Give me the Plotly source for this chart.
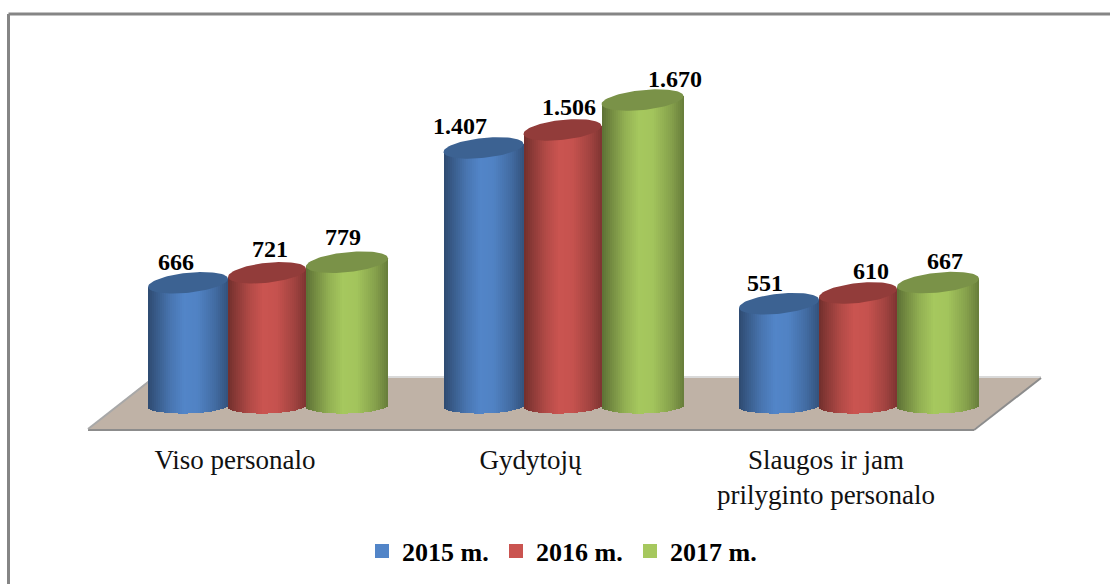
import numpy as np
import plotly.graph_objects as go

# ---- data ----
categories = ["Viso personalo", "Gydytojų", "Slaugos ir jam<br>prilyginto personalo"]
series_names = ["2015 m.", "2016 m.", "2017 m."]
values_2015 = [666, 1407, 551]
values_2016 = [721, 1506, 610]
values_2017 = [779, 1670, 667]
labels_2015 = ["666", "1.407", "551"]
labels_2016 = ["721", "1.506", "610"]
labels_2017 = ["779", "1.670", "667"]

# ---- styling / geometry (pixels) ----
W, H = 1110, 584
PLOT_BOTTOM = 435
BASE_PX = 404
PX_PER_UNIT = 0.182
CAT_ORIGIN = 235
CAT_STEP = 295.5
SERIES_LEFT = [148 - 235, 228 - 235, 306 - 235]
SERIES_WIDTH = [80, 78, 82]
SLICE = 2
BODY_RGB = [(82, 133, 200), (202, 84, 80), (166, 200, 94)]
TOP_RGB = [(60, 98, 146), (146, 60, 58), (122, 146, 72)]
SHADE = [(0.0, 0.56), (0.10, 0.68), (0.28, 0.88), (0.45, 1.0), (0.62, 0.98), (0.85, 0.80), (1.0, 0.62)]
TILT = 4
MINOR = 10
BOTTOM_MINOR = 7.5
# label shifts for each series and category (x px, y px above top centre)
LABEL_DX = [[-12, -24, -14], [3, 6, 13], [-4, 32, 7]]
LABEL_DY = [[21, 22, 21], [24, 23, 22], [25, 21, 22]]

all_values = [values_2015, values_2016, values_2017]
all_labels = [labels_2015, labels_2016, labels_2017]

xr = [-CAT_ORIGIN / CAT_STEP, (W - CAT_ORIGIN) / CAT_STEP]
yr = [(BASE_PX - PLOT_BOTTOM) / PX_PER_UNIT, BASE_PX / PX_PER_UNIT]


def shade(rgb, t):
    f = np.interp(t, [s[0] for s in SHADE], [s[1] for s in SHADE])
    return "rgb(%d,%d,%d)" % tuple(int(round(c * f)) for c in rgb)


fig = go.Figure()
annotations = []
for s, (vals, labs) in enumerate(zip(all_values, all_labels)):
    xs, tops, bases, widths, colors = [], [], [], [], []
    wpx = SERIES_WIDTH[s]
    n = wpx // SLICE
    for c, v in enumerate(vals):
        left = c + SERIES_LEFT[s] / CAT_STEP
        for k in range(n):
            t = (k + 0.5) / n
            u = 2 * t - 1
            root = np.sqrt(max(0, 1 - u * u))
            bottom = -(2 - u + BOTTOM_MINOR * root) / PX_PER_UNIT
            top = v + u * TILT / PX_PER_UNIT
            xs.append(left + (k + 0.5) * SLICE / CAT_STEP)
            bases.append(bottom)
            tops.append(top - bottom)
            widths.append(SLICE / CAT_STEP)
            colors.append(shade(BODY_RGB[s], t))
    fig.add_trace(go.Bar(x=xs, y=tops, base=bases, width=widths,
                         marker=dict(color=colors, line=dict(width=0)),
                         showlegend=False, hoverinfo="skip"))
    for c, v in enumerate(vals):
        cx = c + (SERIES_LEFT[s] + wpx / 2) / CAT_STEP
        th = np.linspace(0, 2 * np.pi, 90)
        ex = cx + (wpx / 2) * np.cos(th) / CAT_STEP
        ey = v + (TILT * np.cos(th) + MINOR * np.sin(th)) / PX_PER_UNIT
        fig.add_trace(go.Scatter(x=ex, y=ey, mode="lines", fill="toself",
                                 fillcolor="rgb(%d,%d,%d)" % TOP_RGB[s],
                                 line=dict(width=0, color="rgb(%d,%d,%d)" % TOP_RGB[s]),
                                 showlegend=False, hoverinfo="skip"))
        annotations.append(dict(x=cx, y=v, xref="x", yref="y", text=labs[c], showarrow=False,
                                xshift=LABEL_DX[s][c], yshift=LABEL_DY[s][c],
                                font=dict(family="Liberation Serif", size=24, color="black", weight="bold")))

for s, name in enumerate(series_names):
    fig.add_trace(go.Scatter(x=[None], y=[None], name=name, mode="markers",
                             marker=dict(color="rgb(%d,%d,%d)" % BODY_RGB[s], symbol="square", size=14)))


def px(x):
    return x / W


def py(y):
    return (PLOT_BOTTOM - y) / PLOT_BOTTOM


def path(pts):
    return "M " + " L ".join("%.5f,%.5f" % (px(a), py(b)) for a, b in pts) + " Z"


def seg(a, b, color, w):
    return dict(type="line", xref="paper", yref="paper", x0=px(a[0]), y0=py(a[1]), x1=px(b[0]), y1=py(b[1]),
                line=dict(color=color, width=w), layer="below")


shapes = [
    dict(type="path", xref="paper", yref="paper", path=path([(88, 429), (974, 429), (1041, 378), (152, 378)]),
         fillcolor="#BFB2A6", line=dict(width=0), layer="below"),
    seg((152, 377), (1041, 377), "#D9D9D9", 2),
    seg((88, 430), (974, 430), "#8C8C8C", 2),
    seg((974, 430), (1041, 378), "#8C8C8C", 2),
    seg((88, 429), (152, 379), "#A8A8A8", 2),
    seg((8.5, 14), (1110, 14), "#858585", 3),
    seg((8.5, 14), (8.5, 584), "#858585", 3),
]

fig.update_layout(
    width=W, height=H, autosize=False,
    margin=dict(l=0, r=0, t=0, b=H - PLOT_BOTTOM, pad=0, autoexpand=False),
    paper_bgcolor="white", plot_bgcolor="rgba(0,0,0,0)",
    barmode="overlay", bargap=0,
    xaxis=dict(range=xr, tickmode="array", tickvals=[0, 1, 2], ticktext=categories,
               showgrid=False, zeroline=False, showline=False, ticks="",
               tickangle=0, automargin=False, ticklabelstandoff=6,
               tickfont=dict(family="Liberation Serif", size=27, color="#111111")),
    yaxis=dict(range=yr, visible=False, showgrid=False, zeroline=False),
    legend=dict(orientation="h", x=362 / W, xanchor="left", y=py(551), yanchor="middle",
                entrywidth=89, entrywidthmode="pixels", itemclick=False, itemdoubleclick=False,
                bgcolor="rgba(0,0,0,0)",
                font=dict(family="Liberation Serif", size=26, color="black", weight="bold")),
    shapes=shapes, annotations=annotations, showlegend=True,
)

fig.write_html("out.html", post_script="document.body.style.margin='0';document.body.style.overflow='hidden';",
               config=dict(displayModeBar=False))
